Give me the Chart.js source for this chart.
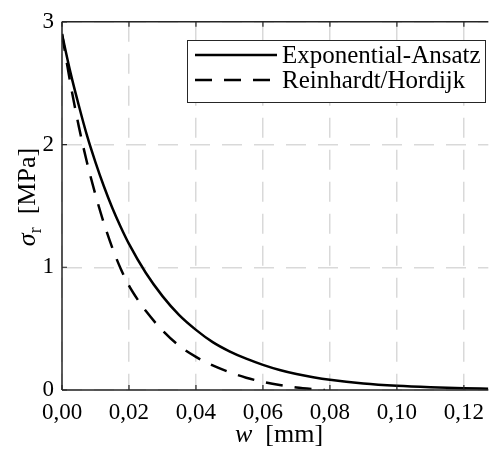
<!DOCTYPE html>
<html>
<head>
<meta charset="utf-8">
<script src="https://cdn.jsdelivr.net/npm/chart.js@4/dist/chart.umd.min.js"></script>
<style>
  html, body { margin: 0; padding: 0; background: #ffffff; }
  #wrap { width: 493px; height: 449px; position: relative; }
</style>
</head>
<body>
<div id="wrap"><canvas id="c" width="493" height="449"></canvas></div>
<script>
// ---- data ----
const seriesLabels = ["Exponential-Ansatz", "Reinhardt/Hordijk"];
const expW = [0, 0.0025, 0.005, 0.0075, 0.01, 0.0125, 0.015, 0.0175, 0.02, 0.025, 0.03, 0.035, 0.04, 0.045, 0.05, 0.055, 0.06, 0.065, 0.07, 0.075, 0.08, 0.09, 0.10, 0.11, 0.12, 0.1273];
const expS = [2.9, 2.59, 2.32, 2.07, 1.855, 1.66, 1.485, 1.33, 1.19, 0.955, 0.765, 0.61, 0.49, 0.39, 0.315, 0.255, 0.205, 0.163, 0.13, 0.104, 0.083, 0.053, 0.034, 0.022, 0.014, 0.010];
const rhW = [0, 0.0025, 0.005, 0.0075, 0.01, 0.0125, 0.015, 0.0175, 0.02, 0.0225, 0.025, 0.03, 0.035, 0.04, 0.045, 0.05, 0.055, 0.06, 0.065, 0.07, 0.075, 0.0785];
const rhS = [2.9, 2.5, 2.15, 1.85, 1.59, 1.36, 1.16, 0.99, 0.85, 0.74, 0.645, 0.485, 0.36, 0.27, 0.20, 0.145, 0.10, 0.066, 0.04, 0.02, 0.007, 0.0];
const xTicks = [0, 0.02, 0.04, 0.06, 0.08, 0.10, 0.12];
const yTicks = [0, 1, 2, 3];
const xTitle = [{t: "w", italic: true}, {t: "  [mm]"}];
const yTitle = [{t: "σ", italic: true}, {t: "r", sub: true}, {t: "  [MPa]"}];

const SERIF = '"Liberation Serif", "Times New Roman", serif';
const AXIS = '#262626';

function toXY(xs, ys) { return xs.map((x, i) => ({x: x, y: ys[i]})); }

function drawRich(ctx, parts, size) {
  let total = 0;
  const fonts = parts.map(p => {
    const s = p.sub ? Math.round(size * 0.7) : size;
    return (p.italic ? 'italic ' : '') + s + 'px ' + SERIF;
  });
  parts.forEach((p, i) => { ctx.font = fonts[i]; total += ctx.measureText(p.t).width; });
  let x = -total / 2;
  parts.forEach((p, i) => {
    ctx.font = fonts[i];
    ctx.fillText(p.t, x, p.sub ? size * 0.22 : 0);
    x += ctx.measureText(p.t).width;
  });
}

const decor = {
  id: 'decor',
  afterDatasetsDraw(chart) {
    const {ctx, chartArea: a, scales: {x, y}} = chart;
    ctx.save();
    ctx.strokeStyle = AXIS;
    ctx.lineWidth = 1.5;
    ctx.beginPath();
    ctx.moveTo(a.left, a.top); ctx.lineTo(a.right, a.top);
    ctx.moveTo(a.left, a.top); ctx.lineTo(a.left, a.bottom);
    ctx.moveTo(a.left, a.bottom); ctx.lineTo(a.right, a.bottom);
    ctx.stroke();
    ctx.lineWidth = 1.2;
    ctx.beginPath();
    xTicks.forEach(v => {
      const px = x.getPixelForValue(v);
      ctx.moveTo(px, a.bottom); ctx.lineTo(px, a.bottom - 5);
      ctx.moveTo(px, a.top); ctx.lineTo(px, a.top + 5);
    });
    yTicks.forEach(v => {
      const py = y.getPixelForValue(v);
      ctx.moveTo(a.left, py); ctx.lineTo(a.left + 5, py);
    });
    ctx.stroke();

    const bx = 187, by = 40, bw = 298, bh = 62;
    ctx.fillStyle = '#ffffff';
    ctx.fillRect(bx, by, bw, bh);
    ctx.strokeStyle = AXIS;
    ctx.lineWidth = 1;
    ctx.strokeRect(bx + 0.5, by + 0.5, bw, bh);
    const rows = [55, 80];
    chart.data.datasets.forEach((ds, i) => {
      ctx.save();
      ctx.strokeStyle = ds.borderColor;
      ctx.lineWidth = ds.borderWidth;
      ctx.setLineDash(ds.borderDash || []);
      ctx.beginPath();
      ctx.moveTo(195, rows[i]); ctx.lineTo(277, rows[i]);
      ctx.stroke();
      ctx.restore();
      ctx.fillStyle = '#000';
      ctx.font = '25px ' + SERIF;
      ctx.textBaseline = 'middle';
      ctx.textAlign = 'left';
      ctx.fillText(ds.label, 282, rows[i] + 1);
    });

    ctx.fillStyle = '#000';
    ctx.textBaseline = 'alphabetic';
    ctx.textAlign = 'left';
    ctx.save();
    ctx.translate(279, 442);
    drawRich(ctx, xTitle, 26);
    ctx.restore();
    ctx.save();
    ctx.translate(35, 197);
    ctx.rotate(-Math.PI / 2);
    drawRich(ctx, yTitle, 26);
    ctx.restore();
    ctx.restore();
  }
};

new Chart(document.getElementById('c'), {
  type: 'line',
  data: {
    datasets: [
      { label: seriesLabels[0], data: toXY(expW, expS), borderColor: '#000000', borderWidth: 2.5,
        pointRadius: 0, fill: false, cubicInterpolationMode: 'monotone' },
      { label: seriesLabels[1], data: toXY(rhW, rhS), borderColor: '#000000', borderWidth: 2.5,
        borderDash: [17, 12], pointRadius: 0, fill: false, cubicInterpolationMode: 'monotone' }
    ]
  },
  options: {
    responsive: false,
    animation: false,
    devicePixelRatio: 1,
    layout: { padding: { top: 20, right: 0, left: 0, bottom: 0 } },
    plugins: { legend: { display: false }, tooltip: { enabled: false } },
    scales: {
      x: {
        type: 'linear', min: 0, max: 0.1273,
        afterBuildTicks: s => { s.ticks = xTicks.map(v => ({value: v})); },
        afterFit: s => { s.height = 59; },
        grid: { color: '#d9d9d9', lineWidth: 1.5, drawTicks: false },
        border: { display: false, dash: [20, 12] },
        ticks: { padding: 9, color: '#000', font: { family: SERIF, size: 23 },
          maxRotation: 0, autoSkip: false,
          callback: v => v.toFixed(2).replace('.', ',') }
      },
      y: {
        type: 'linear', min: 0, max: 3,
        afterBuildTicks: s => { s.ticks = yTicks.map(v => ({value: v})); },
        afterFit: s => { s.width = 62; },
        grid: { color: '#d9d9d9', lineWidth: 1.5, drawTicks: false },
        border: { display: false, dash: [20, 12] },
        ticks: { padding: 8, color: '#000', font: { family: SERIF, size: 23 },
          callback: v => String(v) }
      }
    }
  },
  plugins: [decor]
});
</script>
</body>
</html>
